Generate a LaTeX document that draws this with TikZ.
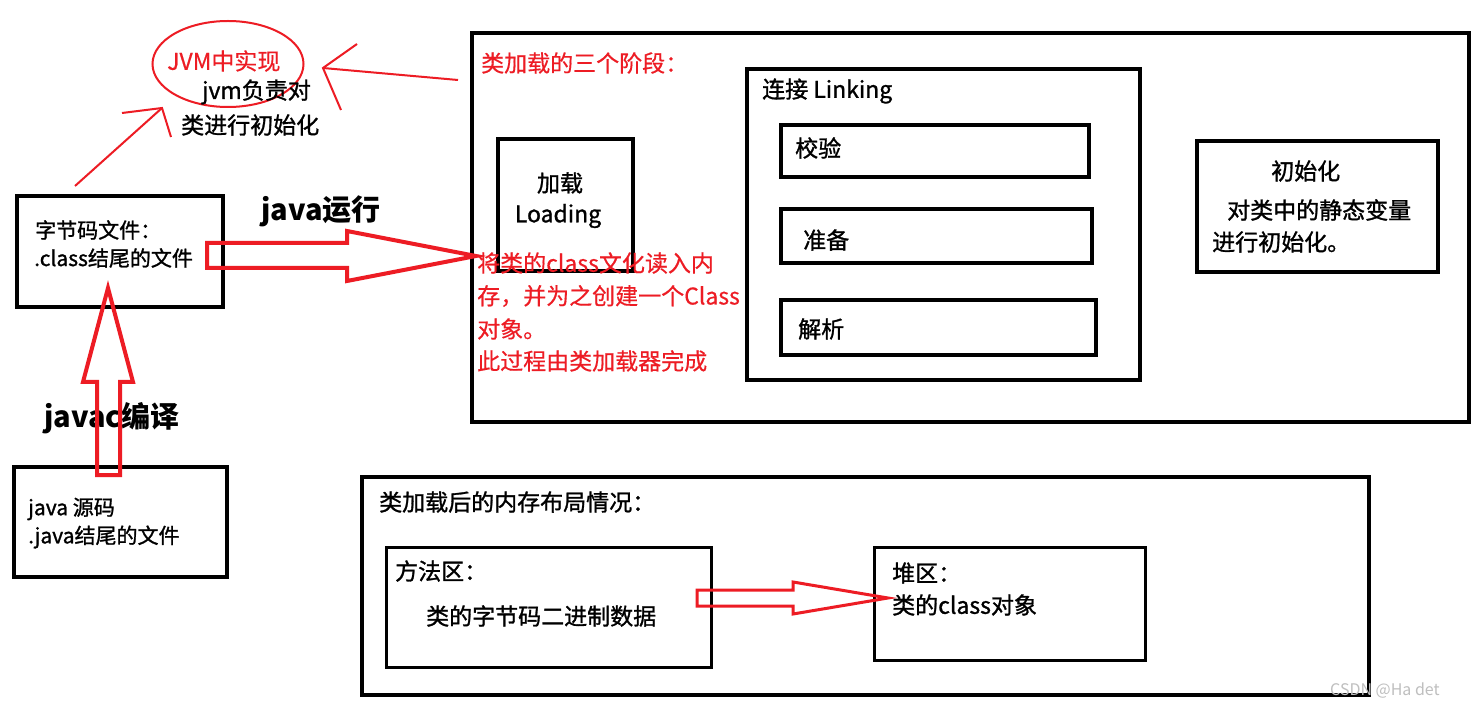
\documentclass[tikz,border=0pt]{standalone}
\usepackage{fontspec}
\setmainfont{Noto Sans CJK SC}
\newfontfamily\heavyfont{Noto Sans CJK SC}[FakeBold=1.2]
\newfontfamily\redfont{Noto Sans CJK SC}[FakeBold=0.5]
\usetikzlibrary{shapes.geometric,calc}
\definecolor{pred}{RGB}{237,28,36}
\newcommand\fsMain{\fontsize{23}{28}\selectfont}
\newcommand\fsSmall{\fontsize{21}{26}\selectfont}
\newcommand\fsBig{\fontsize{29}{34}\selectfont}
\begin{document}
\begin{tikzpicture}[x=1pt,y=-1pt,
  box/.style={draw, line width=4pt, inner sep=0pt, anchor=north west},
  thinbox/.style={draw, line width=3pt, inner sep=0pt, anchor=north west},
  txt/.style={inner sep=0pt, anchor=west, font=\heavyfont\fsMain},
  stxt/.style={inner sep=0pt, anchor=west, font=\heavyfont\fsSmall},
  rtxt/.style={inner sep=0pt, anchor=west, font=\redfont\fsMain, text=pred},
  btxt/.style={inner sep=0pt, anchor=west, font=\fsBig\bfseries},
  redthin/.style={draw=pred, line width=2pt},
  blockarrow/.style={draw=pred, line width=4pt, line join=miter},
]
\useasboundingbox (0,0) rectangle (1475,708);
\fill[white] (0,0) rectangle (1475,708);

% boxes
\node[box, minimum width=997pt, minimum height=389pt] (stages) at (470,31) {};
\node[box, minimum width=393pt, minimum height=311pt] (linking) at (745,67) {};
\node[box, minimum width=308pt, minimum height=52pt] (verify) at (779,123) {};
\node[box, minimum width=311pt, minimum height=54pt] (prepare) at (779,207) {};
\node[box, minimum width=315pt, minimum height=55pt] (resolve) at (779,298) {};
\node[box, minimum width=135pt, minimum height=132pt] (loading) at (496,137) {};
\node[box, minimum width=241pt, minimum height=131pt] (init) at (1195,139) {};
\node[box, minimum width=206pt, minimum height=111pt] (bytecode) at (15,194) {};
\node[box, minimum width=213pt, minimum height=110pt] (source) at (12,465) {};
\node[box, minimum width=1007pt, minimum height=218pt] (memory) at (360,475) {};
\node[thinbox, minimum width=325pt, minimum height=120pt] (method) at (385,546) {};
\node[thinbox, minimum width=271pt, minimum height=113pt] (heap) at (873,546) {};

% texts in boxes
\node[rtxt] (tStages) at (481,63) {类加载的三个阶段：};
\node[txt] (tLinking) at (762,91) {连接 Linking};
\node[txt] (tVerify) at (795,148) {校验};
\node[txt] (tPrepare) at (803,240) {准备};
\node[txt] (tResolve) at (798,329) {解析};
\node[txt, anchor=center] (tLoad1) at (560,183) {加载};
\node[txt, anchor=center] (tLoad2) at (558,216) {Loading};
\node[txt] (tInit1) at (1271,171) {初始化};
\node[txt] (tInit2) at (1227,210) {对类中的静态变量};
\node[txt] (tInit3) at (1212,242) {进行初始化。};
\node[stxt] (tBc1) at (35,230) {字节码文件：};
\node[stxt] (tBc2) at (34,258) {.class结尾的文件};
\node[stxt] (tSrc1) at (28,509) {java 源码};
\node[stxt] (tSrc2) at (28,537) {.java结尾的文件};
\node[txt] (tMem) at (379,502) {类加载后的内存布局情况：};
\node[txt] (tMethod1) at (395,571) {方法区：};
\node[txt] (tMethod2) at (426,616) {类的字节码二进制数据};
\node[txt] (tHeap1) at (892,573) {堆区：};
\node[txt] (tHeap2) at (892,605) {类的class对象};

% red description
\node[rtxt] (tDesc1) at (477,263) {将类的class文化读入内};
\node[rtxt] (tDesc2) at (477,296) {存，并为之创建一个Class};
\node[rtxt] (tDesc3) at (477,329) {对象。};
\node[rtxt] (tDesc4) at (477,361) {此过程由类加载器完成};

% JVM ellipse
\node[draw=pred, ellipse, line width=2pt, minimum width=151pt, minimum height=86pt, inner sep=0pt] (jvm) at (228,64) {};
\node[rtxt] (tJvm1) at (167,61) {JVM中实现};
\node[txt] (tJvm2) at (202,92) {jvm负责对};
\node[txt] (tJvm3) at (181,125) {类进行初始化};

% arrow labels
\node[btxt] (tRun) at (261,211) {java运行};
\node[btxt] (tCompile) at (44,418) {javac编译};

% thin red arrows
\coordinate (a1s) at (75,186);
\coordinate (a1t) at (162,108);
\draw[redthin] (a1s) -- (a1t);
\draw[redthin] ($(a1t)+(-40,5)$) -- (a1t) -- ($(a1t)+(9,29)$);
\coordinate (a2s) at (458,80);
\coordinate (a2t) at (323,68);
\draw[redthin] (a2s) -- (a2t);
\draw[redthin] ($(a2t)+(34,-24)$) -- (a2t) -- ($(a2t)+(18,42)$);

% block arrows
\draw[blockarrow] (207,243) -- (347,243) -- (347,231) -- (476,256) -- (347,281) -- (347,268) -- (207,268) -- cycle;
\draw[blockarrow] (97,475) -- (97,382) -- (83,382) -- (108,288) -- (133,382) -- (120,382) -- (120,475) -- cycle;
\draw[blockarrow, line width=3pt] (697,590) -- (793,590) -- (793,582) -- (888,598) -- (793,614) -- (793,606) -- (697,606) -- cycle;

% watermark
\node[inner sep=0pt, anchor=west, font=\fontsize{16}{18}\selectfont, text=black!25] (wm) at (1330,691) {CSDN @Ha det};
\end{tikzpicture}
\end{document}
